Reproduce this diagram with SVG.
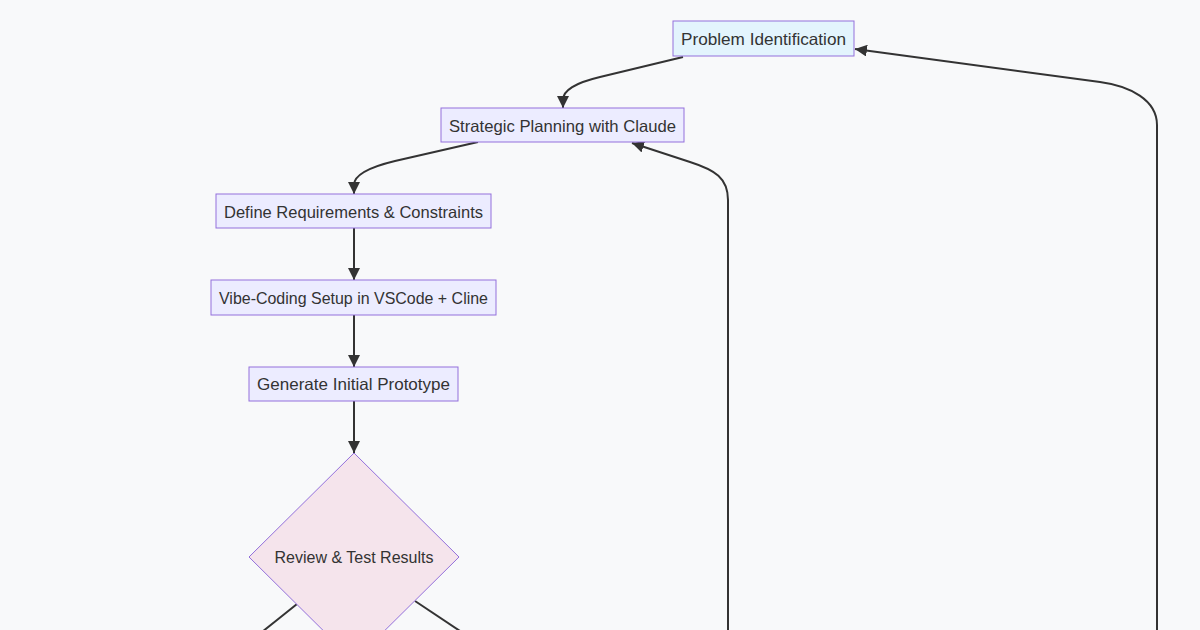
<svg xmlns="http://www.w3.org/2000/svg" width="1200" height="630" viewBox="0 0 1200 630">
<style>
.node rect,.node polygon{fill:#ececff;stroke:#9370db;stroke-width:1}
.node text{font-family:"Liberation Sans",Arial,sans-serif;font-size:16.5px;fill:#333;text-anchor:middle;dominant-baseline:central}
#n1 rect{fill:#e3f4fd}
#n6 polygon{fill:#f5e4ec}
.edge{fill:none;stroke:#333;stroke-width:2}
.edge.arr{marker-end:url(#ah)}
</style>
<defs>
<marker id="ah" viewBox="0 0 10 10" refX="10" refY="5" markerUnits="userSpaceOnUse" markerWidth="12" markerHeight="12" orient="auto">
<path d="M0,0 L10,5 L0,10 z" fill="#333"/>
</marker>
</defs>
<rect x="0" y="0" width="1200" height="630" fill="#f8f9fa"/>
<g id="connectors">
<path class="edge arr" d="M683,57 L600,77 C575,83 563,90 563,100 L563,108"/>
<path class="edge arr" d="M478,142 L395,161 C370,167 354,175 354,185 L354,194"/>
<path class="edge arr" d="M354,228 L354,280"/>
<path class="edge arr" d="M354,315 L354,367"/>
<path class="edge arr" d="M354,401 L354,453"/>
<path class="edge" d="M297,604 L262,632"/>
<path class="edge" d="M415,601 L460,631"/>
<path class="edge arr" d="M728,632 L728,200 C728,178 715,170 690,162 L632,143"/>
<path class="edge arr" d="M1157,632 L1157,125 C1157,100 1130,86 1100,82 L855,49"/>
</g>
<g id="n1" class="node"><rect x="673" y="21" width="181" height="35"/><text x="763.5" y="39" textLength="165" lengthAdjust="spacingAndGlyphs">Problem Identification</text></g>
<g id="n2" class="node"><rect x="441" y="108" width="243" height="34"/><text x="562.5" y="126" textLength="227" lengthAdjust="spacingAndGlyphs">Strategic Planning with Claude</text></g>
<g id="n3" class="node"><rect x="216" y="194" width="275" height="34"/><text x="353.5" y="212" textLength="259" lengthAdjust="spacingAndGlyphs">Define Requirements &amp; Constraints</text></g>
<g id="n4" class="node"><rect x="211" y="280" width="285" height="35"/><text x="353.5" y="298" textLength="269" lengthAdjust="spacingAndGlyphs">Vibe-Coding Setup in VSCode + Cline</text></g>
<g id="n5" class="node"><rect x="249" y="367" width="209" height="34"/><text x="353.5" y="384" textLength="193" lengthAdjust="spacingAndGlyphs">Generate Initial Prototype</text></g>
<g id="n6" class="node"><polygon points="354,453 459,557 354,661 249,557"/><text x="354" y="557" textLength="159" lengthAdjust="spacingAndGlyphs">Review &amp; Test Results</text></g>
</svg>
